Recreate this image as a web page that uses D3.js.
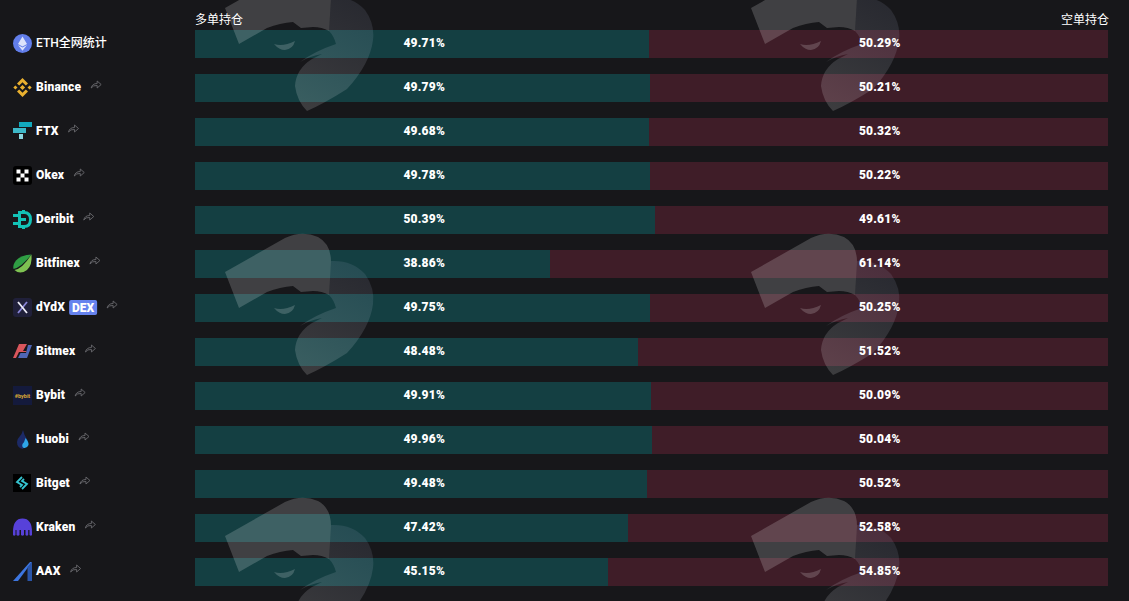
<!DOCTYPE html>
<html>
<head>
<meta charset="utf-8">
<script src="https://cdn.jsdelivr.net/npm/d3@7"></script>
<style>
html, body { margin: 0; background: #17171a; overflow: hidden; }
text { font-family: Roboto, "Noto Sans CJK SC", sans-serif; fill: #fff; }
</style>
</head>
<body>
<svg id="chart"></svg>
<script>
const exchanges = ["ETH全网统计", "Binance", "FTX", "Okex", "Deribit", "Bitfinex", "dYdX", "Bitmex", "Bybit", "Huobi", "Bitget", "Kraken", "AAX"];
const longPct = [49.71, 49.79, 49.68, 49.78, 50.39, 38.86, 49.75, 48.48, 49.91, 49.96, 49.48, 47.42, 45.15];
const shortPct = [50.29, 50.21, 50.32, 50.22, 49.61, 61.14, 50.25, 51.52, 50.09, 50.04, 50.52, 52.58, 54.85];
const headers = ["多单持仓", "空单持仓"];

const width = 1129, height = 601;
const svg = d3.select("#chart").attr("width", width).attr("height", height).style("display", "block");

const x = d3.scaleLinear().domain([0, 100]).range([195, 1108]);
const y = d3.scaleBand().domain(exchanges).range([30, 586]).paddingInner(16 / 44);
const split = v => Math.round(x(v) + 0.4);

// bars
const rows = svg.append("g").selectAll("g").data(exchanges).join("g");
rows.append("rect")
    .attr("x", x(0)).attr("y", d => y(d)).attr("height", y.bandwidth())
    .attr("width", (d, i) => split(longPct[i]) - x(0))
    .attr("fill", "#143f42");
rows.append("rect")
    .attr("x", (d, i) => split(longPct[i])).attr("y", d => y(d)).attr("height", y.bandwidth())
    .attr("width", (d, i) => x(100) - split(longPct[i]))
    .attr("fill", "#3f1d28");

// watermark, repeated as a tile over the bars
const defs = svg.append("defs");
const grad = defs.append("linearGradient").attr("id", "lobe")
    .attr("gradientUnits", "userSpaceOnUse").attr("x1", 365).attr("y1", 265).attr("x2", 305).attr("y2", 370);
grad.append("stop").attr("offset", 0).attr("stop-color", "#9aa3c4").attr("stop-opacity", 0.13);
grad.append("stop").attr("offset", 1).attr("stop-color", "#fff").attr("stop-opacity", 0.16);

const wing = "M225,272 L285,238 Q302,230 318,237 Q331,244 331,262 L329,295 Q322,291 313,291 L301,292 L293,286 Q280,287 267,292 L239,308 Z";
const body = "M331,261 Q352,260 365,274 Q375,288 373,304 Q370,328 347,353 Q325,367 307,375 Q297,365 295,350 Q296,333 312,323 Q320,319 322,318 Q310,320 300,326 Q315,315 336,308 Q334,300 329,295 Z";
const eye = "M274,308 Q283,311 295,305 Q293,313 285,314 Q279,314 274,308 Z";
const tiles = d3.cross([0, 526], [-264, 0, 264]);
const mark = svg.append("g").selectAll("g").data(tiles).join("g")
    .attr("transform", d => `translate(${d[0]},${d[1]})`);
mark.append("path").attr("d", wing).attr("fill", "#fff").attr("fill-opacity", 0.18);
mark.append("path").attr("d", eye).attr("fill", "#fff").attr("fill-opacity", 0.18);
mark.append("path").attr("d", body).attr("fill", "url(#lobe)");

// percentages
const pct = svg.append("g").attr("font-size", 12).attr("text-anchor", "middle")
    .style("font-weight", 900).style("letter-spacing", "0.2px");
pct.selectAll(".long").data(exchanges).join("text").attr("class", "long")
    .attr("x", x(25) + 1).attr("y", d => y(d) + y.bandwidth() / 2 + 3)
    .text((d, i) => longPct[i].toFixed(2) + "%");
pct.selectAll(".short").data(exchanges).join("text").attr("class", "short")
    .attr("x", x(75)).attr("y", d => y(d) + y.bandwidth() / 2 + 3)
    .text((d, i) => shortPct[i].toFixed(2) + "%");

// headers
svg.append("text").attr("x", x(0)).attr("y", 24).attr("font-size", 12).text(headers[0]);
svg.append("text").attr("x", x(100) + 1).attr("y", 24).attr("font-size", 12).attr("text-anchor", "end").text(headers[1]);

// little exchange logos, drawn in a box 0..19 centred on the row
const icons = {
  "ETH全网统计": g => {
    g.append("circle").attr("cx", 9.5).attr("cy", 9.5).attr("r", 9.5).attr("fill", "#627eea");
    g.append("path").attr("d", "M9.5,2.5 L14,10 L9.5,12.5 L5,10 Z M5,11 L9.5,13.6 L14,11 L9.5,16.8 Z").attr("fill", "#dbe2fb");
  },
  Binance: g => {
    g.append("path").attr("fill", "#e9b02f").attr("d", "M9.5,0 L15,5.5 L12.8,7.5 L9.5,4.3 L6.2,7.5 L4,5.5 Z M9.5,19 L15,13.5 L12.8,11.5 L9.5,14.7 L6.2,11.5 L4,13.5 Z M2.4,7.4 L4.5,9.5 L2.4,11.6 L0.3,9.5 Z M16.6,7.4 L18.7,9.5 L16.6,11.6 L14.5,9.5 Z M9.5,6.9 L12.1,9.5 L9.5,12.1 L6.9,9.5 Z");
  },
  FTX: g => {
    g.append("path").attr("fill", "#12a9bd").attr("d", "M6,0 H19 V5 H6 Z");
    g.append("path").attr("fill", "#3db8c8").attr("d", "M0,6 H13 V11 H0 Z");
    g.append("path").attr("fill", "#8bd6df").attr("d", "M6,12 H10 V17 H6 Z");
  },
  Okex: g => {
    g.append("rect").attr("width", 19).attr("height", 19).attr("rx", 3).attr("fill", "#000");
    g.append("path").attr("fill", "#fff").attr("d", "M3.5,3.5 H7.5 V7.5 H3.5 Z M11.5,3.5 H15.5 V7.5 H11.5 Z M7.5,7.5 H11.5 V11.5 H7.5 Z M3.5,11.5 H7.5 V15.5 H3.5 Z M11.5,11.5 H15.5 V15.5 H11.5 Z");
  },
  Deribit: g => {
    g.append("path").attr("fill", "none").attr("stroke", "#13c2b6").attr("stroke-width", 3).attr("d", "M6.5,2.5 H11 Q17.5,2.5 17.5,9.5 Q17.5,16.5 11,16.5 H6.5 Z");
    g.append("path").attr("fill", "#13c2b6").attr("d", "M0,4 H5 V7 H0 Z M0,12 H5 V15 H0 Z M9,0 H12 V4 H9 Z M9,15 H12 V19 H9 Z M6,8 H13 V11 H6 Z");
  },
  Bitfinex: g => {
    g.append("path").attr("fill", "#7ec252").attr("d", "M18.5,0.5 Q19.5,11 14,16 Q7,21 1.5,16 Q9,15 18.5,0.5 Z");
    g.append("path").attr("fill", "#2f9e44").attr("d", "M18.5,0.5 Q8,1 3,6.5 Q-0.5,11 0.5,15 Q8,13.5 18.5,0.5 Z");
  },
  dYdX: g => {
    g.append("rect").attr("width", 19).attr("height", 19).attr("rx", 3).attr("fill", "#20203a");
    g.append("path").attr("fill", "none").attr("stroke", "#8a86d8").attr("stroke-width", 1.8).attr("d", "M14,4 L5,15");
    g.append("path").attr("fill", "none").attr("stroke", "#eeeef8").attr("stroke-width", 1.8).attr("d", "M5,4 L14,15");
  },
  Bitmex: g => {
    g.append("path").attr("fill", "#d9565c").attr("d", "M6,2 H14 L10,9 H14 L13,10 H6 L3,16 H0 Z");
    g.append("path").attr("fill", "#4f66b5").attr("d", "M15,3 H19 L14,16 H5 L7.5,11 H13 Z");
  },
  Bybit: g => {
    g.append("rect").attr("width", 19).attr("height", 19).attr("fill", "#141a3c");
    g.append("text").attr("x", 9.5).attr("y", 11.5).attr("text-anchor", "middle").attr("font-size", 5.5).attr("font-weight", 700).style("fill", "#d9a735").text("#bybit");
  },
  Huobi: g => {
    g.append("path").attr("fill", "#1c2a66").attr("d", "M10,0 Q11,5 14,9 Q16,13 12,16 L10,19 Q4,18 4,12 Q4,9 7,6 Q9,4 10,0 Z");
    g.append("path").attr("fill", "#2ea5e8").attr("d", "M12.5,8 Q16,12 15.5,15 Q14,18.5 11,18 Q8.5,17 9.5,14 Q11.5,12 12.5,8 Z");
  },
  Bitget: g => {
    g.append("rect").attr("width", 18).attr("height", 18).attr("fill", "#000");
    g.append("path").attr("fill", "none").attr("stroke", "#35c4d0").attr("stroke-width", 1.8).attr("d", "M9,3 L4,8 L9,11 L7,13 M9,15 L14,10 L9,7 L11,5");
  },
  Kraken: g => {
    g.append("path").attr("fill", "#5741d9").attr("d", "M0,14 Q0,0.5 9.5,0.5 Q19,0.5 19,14 V17 Q18,18.5 16.5,17 V12 H15.2 V17 Q14,18.5 12.5,17 V12 H11 V17 Q9.5,18.5 8,17 V12 H6.5 V17 Q5,18.5 3.5,17 V12 H2.5 V17 Q1,18.5 0,17 Z");
  },
  AAX: g => {
    g.append("path").attr("fill", "#3d76e0").attr("d", "M17,0 H19 L5,19 H0 Z");
    g.append("path").attr("fill", "#2a55a8").attr("d", "M19,0 V19 H14.5 V5 Z");
  }
};

const share = "M1,9 Q2,4.5 7,4.5 V2 L11,5.5 L7,9 V6.5 Q3,6 1,9 Z";
const labels = svg.append("g").selectAll("g").data(exchanges).join("g")
    .attr("transform", d => `translate(0,${y(d) + y.bandwidth() / 2})`);
labels.append("g").attr("transform", "translate(13,-10)").each(function(d) { icons[d](d3.select(this)); });
labels.append("text").attr("class", "name").attr("x", 36).attr("y", 3).attr("font-size", 12)
    .style("letter-spacing", (d, i) => i ? "0.2px" : null)
    .style("font-weight", d => d === exchanges[0] ? 500 : 900).text(d => d);
labels.each(function(d, i) {
  const g = d3.select(this);
  let end = 36 + g.select(".name").node().getComputedTextLength();
  if (d === "dYdX") {
    g.append("rect").attr("x", end + 4).attr("y", -8).attr("width", 28).attr("height", 15).attr("rx", 2).attr("fill", "#6683ee");
    g.append("text").attr("x", end + 18).attr("y", 4).attr("text-anchor", "middle").attr("font-size", 12).style("font-weight", 900).text("DEX");
    end += 32;
  }
  if (i > 0) {
    g.append("path").attr("d", share).attr("transform", `translate(${end + 9},-9)`)
        .attr("fill", "none").attr("stroke", "#6a6a6e").attr("stroke-width", 0.9);
  }
});
</script>
</body>
</html>
